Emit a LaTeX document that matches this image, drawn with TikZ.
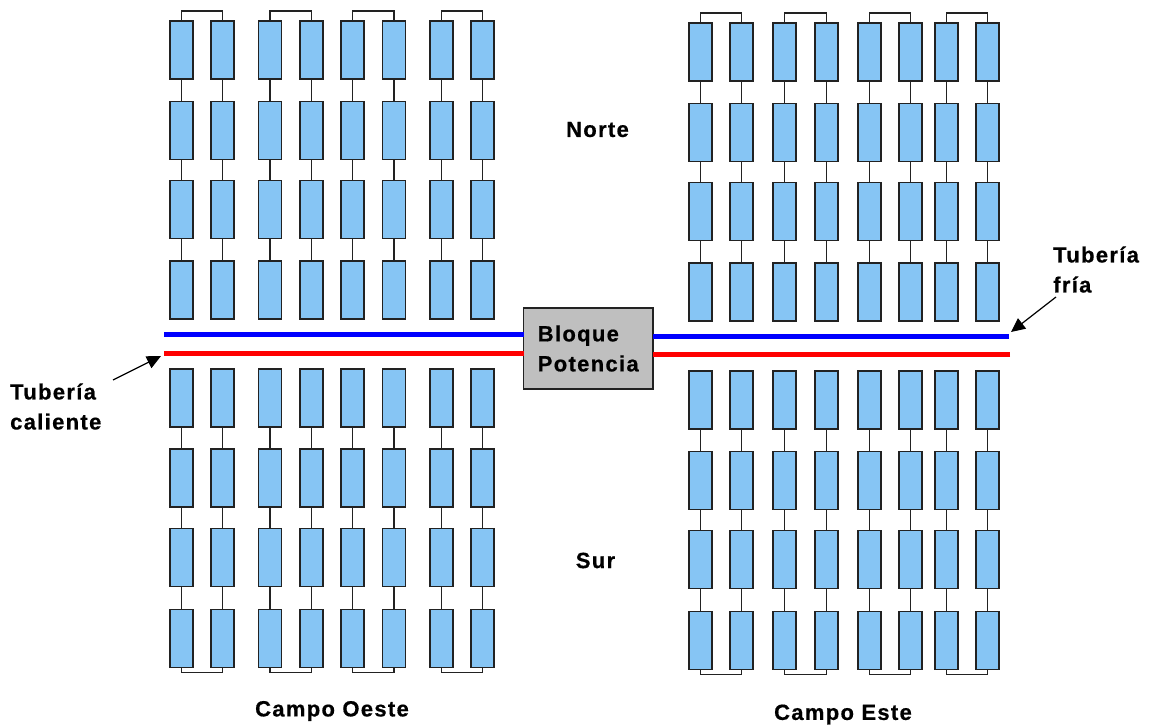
\documentclass[tikz,border=0pt]{standalone}
\usepackage{fontspec}
\setmainfont{Liberation Sans}[LetterSpace=6,BoldFeatures={FakeBold=0.6}]
\usetikzlibrary{arrows.meta}
\definecolor{panelblue}{HTML}{86C5F4}
\definecolor{edgedark}{HTML}{222222}
\definecolor{blockgray}{HTML}{BFBFBF}
\tikzset{
  panel/.style={draw=edgedark,line width=1.9pt,fill=panelblue,minimum width=23pt,minimum height=58pt,inner sep=0pt,outer sep=0pt},
  link/.style={draw=edgedark,line width=1.9pt},
  pipecold/.style={draw=blue,line width=5pt},
  pipehot/.style={draw=red,line width=5pt},
  label/.style={font=\bfseries\fontsize{22}{30}\selectfont,inner sep=0pt,align=left},
  pointer/.style={draw=black,line width=1.2pt,-{Triangle[length=14pt,width=13pt]}},
}
\begin{document}
\begin{tikzpicture}[x=1pt,y=-1pt]
\useasboundingbox (0,0) rectangle (1149,727);
% solar collector panels
\foreach \f/\xs/\ys in {
  wn/{181.5,222.5,270,311.5,352.5,394,441.5,482.5}/{50,130.5,209.5,290},
  ws/{181.5,222.5,270,311.5,352.5,394,441.5,482.5}/{398,478,557.5,638.5},
  en/{700.5,741.5,784.5,826.5,869.5,910.5,946.5,987.5}/{52,132.5,211.5,292},
  es/{700.5,741.5,784.5,826.5,869.5,910.5,946.5,987.5}/{400,480.5,559.5,640.5}}{
  \foreach \x [count=\c] in \xs {
    \foreach \y [count=\r] in \ys {
      \node[panel] (\f-\c-\r) at (\x,\y) {};
    }
    \foreach \r/\n in {1/2,2/3,3/4}{
      \draw[link] (\f-\c-\r.south) -- (\f-\c-\n.north);
    }
  }
}
% U-bends
\foreach \f in {wn,en}{
  \foreach \a/\b in {1/2,3/4,5/6,7/8}{
    \draw[link] (\f-\a-1.north) -- ++(0,-10) -| (\f-\b-1.north);
  }
}
\foreach \f in {ws,es}{
  \foreach \a/\b in {1/2,3/4,5/6,7/8}{
    \draw[link] (\f-\a-4.south) -- ++(0,5) -| (\f-\b-4.south);
  }
}
% power block
\node[draw=edgedark,line width=1.9pt,fill=blockgray,minimum width=129.5pt,minimum height=81pt,inner sep=0pt,outer sep=0pt,label] (block) at (588.25,348.5) {Bloque\\Potencia};
% pipes
\coordinate (wcold) at (164,335);
\coordinate (whot) at (164,353.5);
\coordinate (ecold) at (1009,337);
\coordinate (ehot) at (1010,355);
\draw[pipecold] (wcold) -- (wcold -| block.west);
\draw[pipehot] (whot) -- (whot -| block.west);
\draw[pipecold] (ecold) -- (ecold -| block.east);
\draw[pipehot] (ehot) -- (ehot -| block.east);
% labels
\node[label] (norte) at (597.5,129.5) {Norte};
\node[label] (sur) at (595.5,560.5) {Sur};
\node[label,anchor=west] (hot) at (10,406.5) {Tubería\\caliente};
\node[label,anchor=west] (cold) at (1053,269.5) {Tubería\\fría};
\node[label] (oeste) at (332,711) {Campo Oeste};
\node[label] (este) at (843,714.5) {Campo Este};
% pointers
\coordinate (hotfrom) at (113,380);
\coordinate (hotto) at (161,356);
\coordinate (coldfrom) at (1056,297);
\coordinate (coldto) at (1011,332);
\draw[pointer] (hotfrom) -- (hotto);
\draw[pointer] (coldfrom) -- (coldto);
\end{tikzpicture}
\end{document}
